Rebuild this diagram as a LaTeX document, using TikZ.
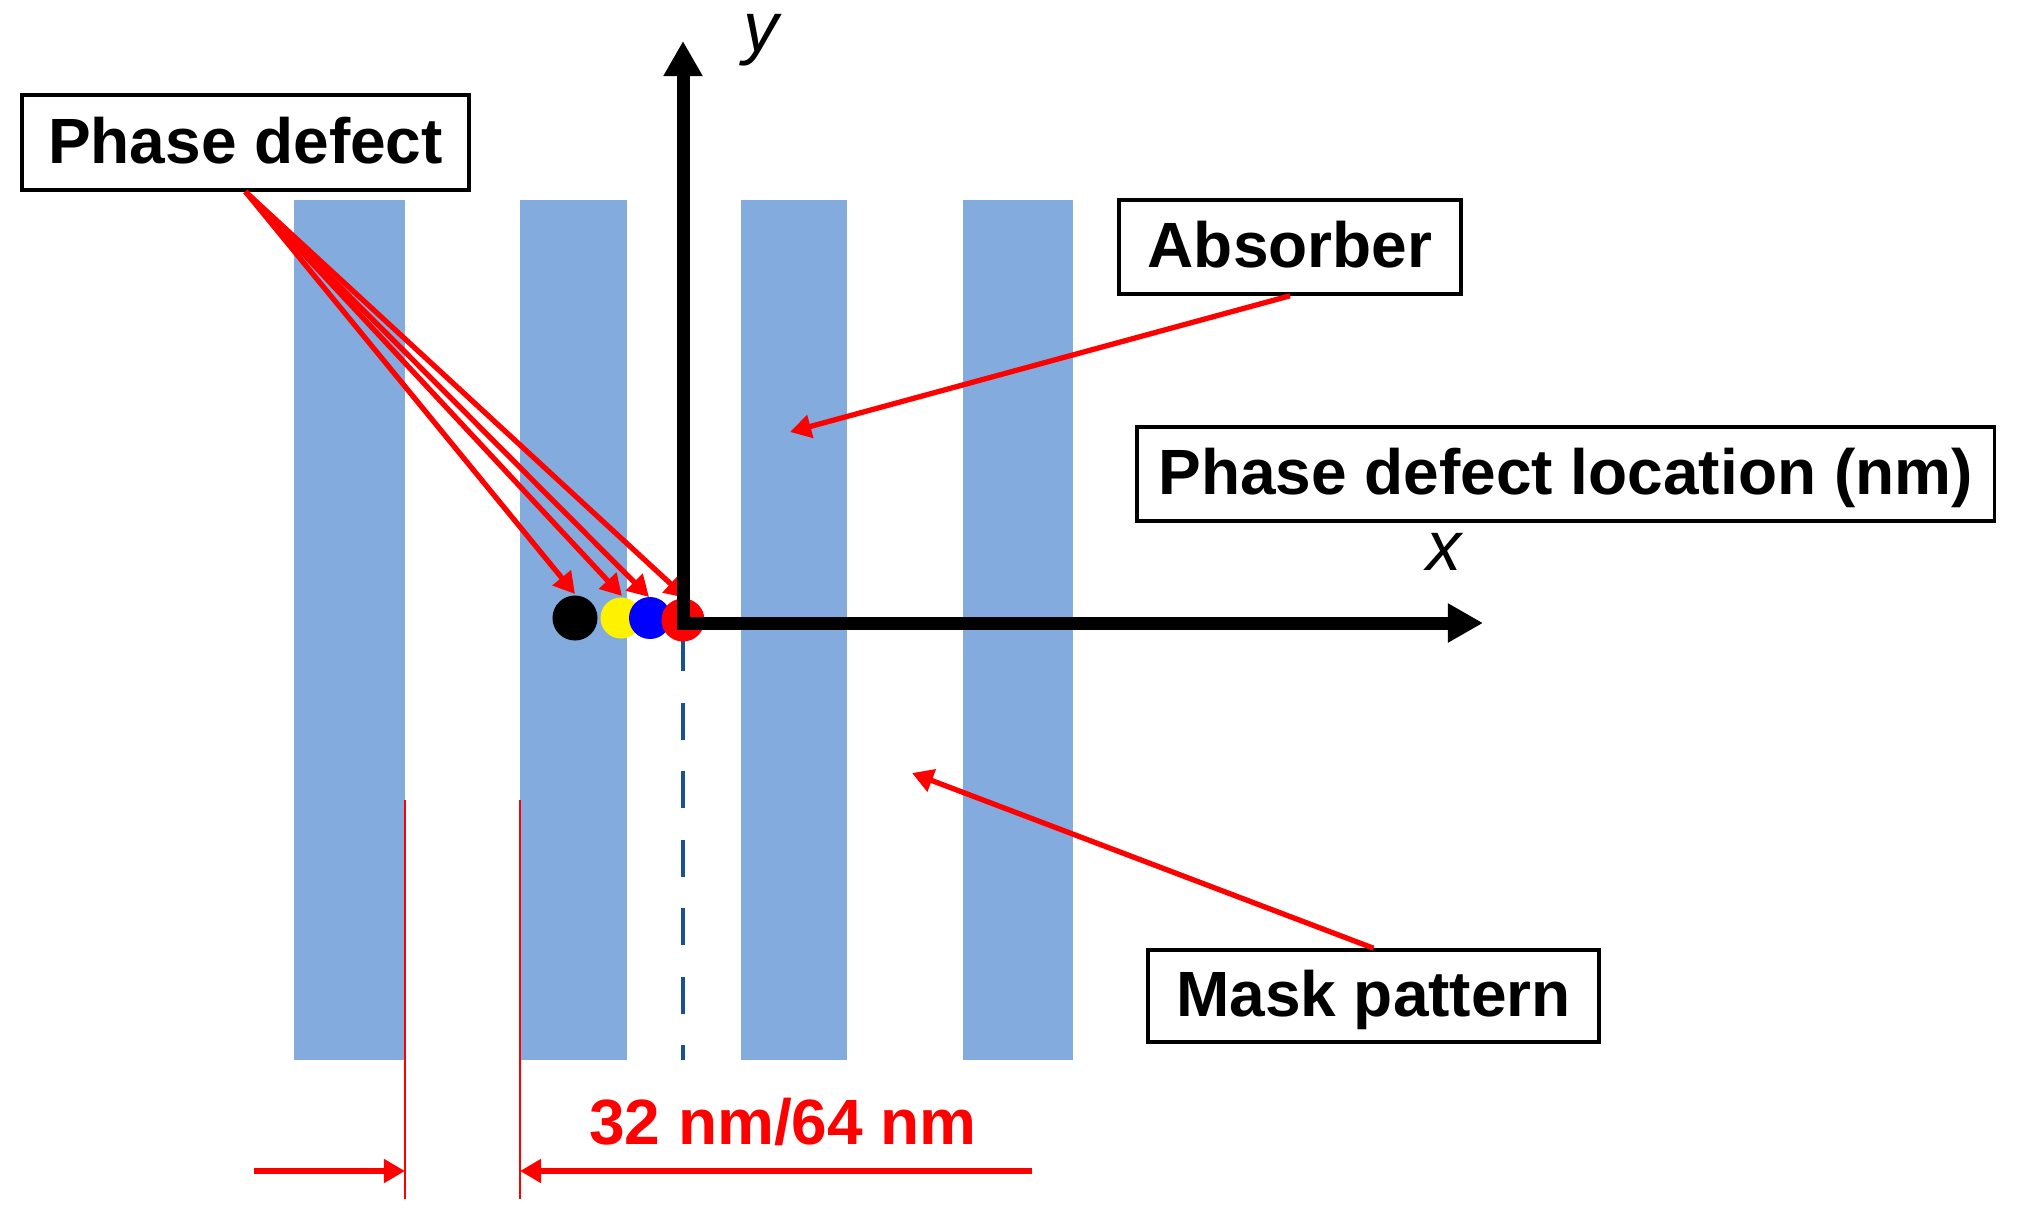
\documentclass[tikz,border=0pt]{standalone}
\usepackage{fontspec}
\setmainfont{Liberation Sans}
\usetikzlibrary{arrows.meta}
\definecolor{barblue}{RGB}{132,171,222}
\definecolor{dashblue}{RGB}{25,80,150}
\begin{document}
\begin{tikzpicture}[x=0.01cm,y=-0.01cm,
  bar/.style={fill=barblue,draw=none},
  lbl/.style={draw=black,line width=1pt,fill=white,font=\fontsize{18.2}{22}\selectfont\bfseries,inner sep=0pt,align=center,text depth=0.05cm},
  redarrow/.style={draw=red,line width=1.5pt,-{Triangle[length=6pt,width=6.5pt]}},
  dimline/.style={draw=red,line width=0.6pt},
  axis/.style={line width=3.7pt,line join=miter,{Triangle[length=10pt,width=10.5pt]}-{Triangle[length=10pt,width=10.5pt]}},
  dot/.style={circle,inner sep=0pt,draw=none},
  axlbl/.style={font=\fontsize{20}{24}\selectfont\itshape,inner sep=0pt}
]
\useasboundingbox (0,0) rectangle (2022,1230);
% bars
\fill[bar] (294,200) rectangle (405,1060);
\fill[bar] (520,200) rectangle (627,1060);
\fill[bar] (741,200) rectangle (847,1060);
\fill[bar] (963,200) rectangle (1073,1060);
% coordinates
\coordinate (o) at (683,623);
\coordinate (ytip) at (683,41);
\coordinate (xtip) at (1483,623);
\coordinate (dtop) at (683,634);
\coordinate (dbot) at (683,1060);
\coordinate (abs) at (790,432);
\coordinate (mask) at (912,773);
\coordinate (tb) at (575,594);
\coordinate (ty) at (622,596);
\coordinate (tbl) at (649,597);
\coordinate (tr) at (686,598);
\coordinate (v1t) at (405,800);
\coordinate (v1b) at (405,1199);
\coordinate (v2t) at (520,800);
\coordinate (v2b) at (520,1199);
\coordinate (a1s) at (254,1171);
\coordinate (a1e) at (405,1171);
\coordinate (a2s) at (1032,1171);
\coordinate (a2e) at (520,1171);
% labels
\node[lbl,minimum width=4.47cm,minimum height=0.95cm] (pd) at (245.5,142.5) {Phase defect};
\node[lbl,minimum width=3.42cm,minimum height=0.94cm] (ab) at (1290,247) {Absorber};
\node[lbl,minimum width=8.57cm,minimum height=0.94cm] (pdl) at (1565.5,474) {Phase defect location (nm)};
\node[lbl,minimum width=4.51cm,minimum height=0.92cm] (mp) at (1373.5,996) {Mask pattern};
\node[font=\fontsize{18.2}{22}\selectfont\bfseries,text=red,inner sep=0pt] (dim) at (783,1122) {32 nm/64 nm};
% dashed line
\draw[dashblue,line width=1.4pt,dash pattern=on 10.5pt off 9pt] (dtop) -- (dbot);
% phase defect arrows
\draw[redarrow] (pd.south) -- (tb);
\draw[redarrow] (pd.south) -- (ty);
\draw[redarrow] (pd.south) -- (tbl);
\draw[redarrow] (pd.south) -- (tr);
% dots
\node[dot,fill=black,minimum size=0.45cm] (db) at (575,618) {};
\node[dot,fill=yellow,minimum size=0.41cm] (dy) at (621,618) {};
\node[dot,fill=blue,minimum size=0.42cm] (dbl) at (650,618) {};
\node[dot,fill=red,minimum size=0.43cm] (dr) at (683,620) {};
% axes
\draw[axis] (ytip) -- (o) -- (xtip);
\node[axlbl] (yl) at (761,40) {y};
\node[axlbl] (xl) at (1444,552) {x};
% other arrows
\draw[redarrow] (ab.south) -- (abs);
\draw[redarrow] (mp.north) -- (mask);
% dimension
\draw[dimline] (v1t) -- (v1b);
\draw[dimline] (v2t) -- (v2b);
\draw[redarrow] (a1s) -- (a1e);
\draw[redarrow] (a2s) -- (a2e);
\end{tikzpicture}
\end{document}
